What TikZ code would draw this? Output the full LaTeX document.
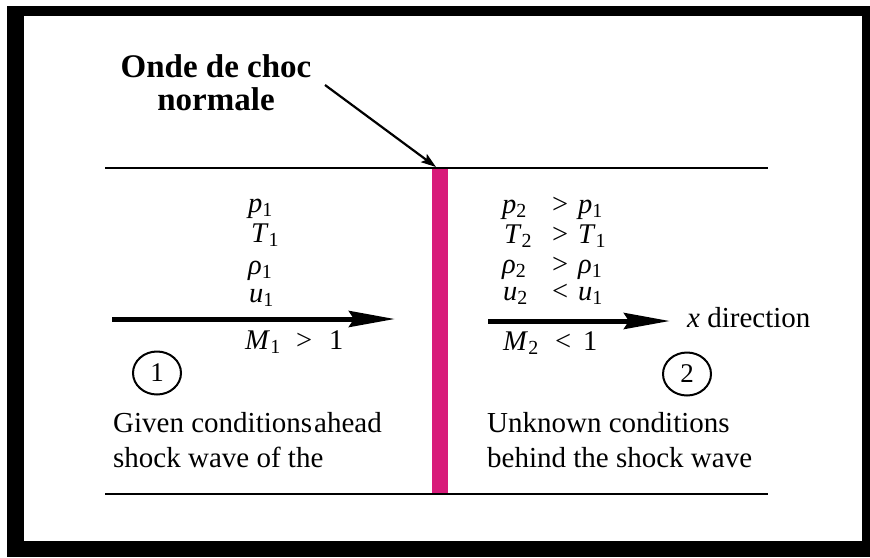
\documentclass[tikz,border=0pt]{standalone}
\usepackage{fontspec}
\setmainfont{Liberation Serif}
\usetikzlibrary{arrows.meta,shapes.geometric}
\definecolor{shockpink}{RGB}{216,27,122}
\newcommand\qv[2]{\textit{#1}\textsubscript{#2}}
\begin{document}
\begin{tikzpicture}[x=1pt,y=-1pt,
  lbl/.style={inner sep=0pt, anchor=base west, font=\fontsize{28.5}{30}\selectfont},
  txt/.style={inner sep=0pt, anchor=base west, font=\fontsize{29}{35}\selectfont},
  ttl/.style={inner sep=0pt, anchor=base, font=\bfseries\fontsize{33}{36}\selectfont},
  wall/.style={line width=2.8pt},
  flow/.style={line width=5pt, -{Stealth[length=46pt,width=16pt,inset=5pt]}},
  pointer/.style={line width=2.2pt, -{Stealth[length=15pt,width=10pt,inset=3pt]}},
  ring/.style={draw, line width=2pt, ellipse, minimum width=48pt, minimum height=43pt, inner sep=0pt, font=\fontsize{27}{27}\selectfont}]
\useasboundingbox (0,0) rectangle (870,557);
\fill[white] (0,0) rectangle (870,557);
\fill[black] (7,6) rectangle (870,557);
\fill[white] (24,16) rectangle (862,541);
% shock wave
\fill[shockpink] (432,168) rectangle (448,494);
\draw[wall] (105,168) -- (768,168);
\draw[wall] (105,494) -- (768,494);
% title
\node[ttl] (title1) at (216,77) {Onde de choc};
\node[ttl] (title2) at (216,110) {normale};
\coordinate (ptA) at (325,85);
\coordinate (ptB) at (436,167);
\draw[pointer] (ptA) -- (ptB);
% left stack
\node[lbl] (lp) at (248,212) {\qv{p}{1}};
\node[lbl] (lT) at (251,242) {\qv{T}{1}};
\node[lbl] (lr) at (248,274) {\qv{ρ}{1}};
\node[lbl] (lu) at (249,302) {\qv{u}{1}};
\node[lbl] (lM) at (245,349) {\makebox[51pt][l]{\qv{M}{1}}\makebox[33pt][l]{>}1};
\coordinate (la) at (112,319);
\coordinate (lb) at (395,319);
\draw[flow] (la) -- (lb);
% right stack
\node[lbl] (rp) at (502,213) {\makebox[50pt][l]{\qv{p}{2}}\makebox[26pt][l]{>}\qv{p}{1}};
\node[lbl] (rT) at (504,243) {\makebox[48pt][l]{\qv{T}{2}}\makebox[26pt][l]{>}\qv{T}{1}};
\node[lbl] (rr) at (502,273) {\makebox[50pt][l]{\qv{ρ}{2}}\makebox[26pt][l]{>}\qv{ρ}{1}};
\node[lbl] (ru) at (503,300) {\makebox[49pt][l]{\qv{u}{2}}\makebox[26pt][l]{<}\qv{u}{1}};
\node[lbl] (rM) at (503,350) {\makebox[52pt][l]{\qv{M}{2}}\makebox[28pt][l]{<}1};
\coordinate (ra) at (488,321);
\coordinate (rb) at (670,321);
\draw[flow] (ra) -- (rb);
\node[lbl, font=\fontsize{29}{30}\selectfont] (xdir) at (687,327) {\textit{x} direction};
% regions
\node[ring] (c1) at (157,373) {1};
\node[ring] (c2) at (687,374) {2};
\node[txt] (g1) at (113,432) {Given conditions\hspace{2pt}ahead};
\node[txt] (g2) at (113,467) {shock wave of the};
\node[txt] (u1) at (487,432) {Unknown conditions};
\node[txt] (u2) at (487,467) {behind the shock wave};
\end{tikzpicture}
\end{document}
